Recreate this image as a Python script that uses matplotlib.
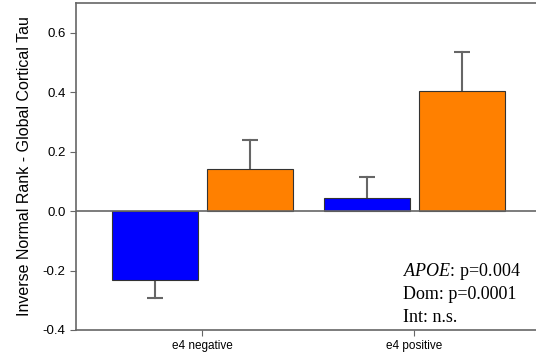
import numpy as np
import matplotlib
matplotlib.use("Agg")
import matplotlib.pyplot as plt

plt.rcParams['font.family'] = ['Liberation Sans', 'DejaVu Sans']
plt.rcParams['mathtext.fontset'] = 'custom'
plt.rcParams['mathtext.rm'] = 'Liberation Serif'
plt.rcParams['mathtext.it'] = 'Liberation Serif:italic'

groups = ["e4 negative", "e4 positive"]
blue_vals = [-0.233, 0.044]
blue_err = [0.060, 0.071]
orange_vals = [0.142, 0.405]
orange_err = [0.096, 0.131]
yticks = [-0.4, -0.2, 0.0, 0.2, 0.4, 0.6]
notes = ["$\\it{APOE}$: p=0.004", "Dom: p=0.0001", "Int: n.s."]

fig = plt.figure(figsize=(5.36, 3.6), dpi=100)
ax = fig.add_axes([76/536, 30/360, 1 - 76/536, 327/360])

x = np.arange(len(groups))
w = 0.406
gray = "#666666"

ax.bar(x - 0.222, blue_vals, w, color="#0000ff", edgecolor="#333333", linewidth=0.8, zorder=2)
ax.bar(x + 0.226, orange_vals, w, color="#ff8000", edgecolor="#333333", linewidth=0.8, zorder=2)

# one-sided error bars, pointing away from zero, cap only at the far end
for xs, vals, errs in [(x - 0.222, blue_vals, blue_err), (x + 0.226, orange_vals, orange_err)]:
    for xi, v, e in zip(xs, vals, errs):
        end = v - e if v < 0 else v + e
        ax.plot([xi, xi], [v, end], color=gray, linewidth=1.5, zorder=1)
        ax.plot([xi], [end], marker="_", markersize=11, markeredgewidth=1.5,
                color=gray, zorder=1)

ax.axhline(0, color=gray, linewidth=1.2, zorder=3)

ax.set_xlim(-0.594, 1.575)
ax.set_ylim(-0.4, 0.7)
ax.set_xticks(x)
ax.set_xticklabels(groups, fontsize=8.5)
ax.set_yticks(yticks)
ax.set_yticklabels(["%.1f" % t for t in yticks], fontsize=9.5)
ax.set_ylabel("Inverse Normal Rank - Global Cortical Tau", fontsize=11.5, labelpad=8)
ax.tick_params(direction="out", color=gray, length=4)

for s in ["left", "bottom", "top"]:
    ax.spines[s].set_color(gray)
    ax.spines[s].set_linewidth(1.2)
ax.spines["right"].set_visible(False)

serif = ['Liberation Serif', 'DejaVu Serif']
for i, t in enumerate(notes):
    fig.text(403/536, 1 - (276 + 23*i)/360, t, fontsize=13, family=serif)

fig.savefig("out.png", dpi=100)
